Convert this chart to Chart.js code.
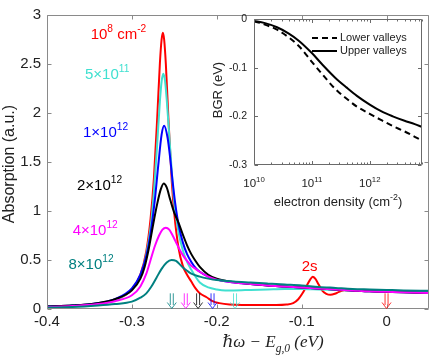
<!DOCTYPE html>
<html>
<head>
<meta charset="utf-8">
<script src="https://cdn.jsdelivr.net/npm/chart.js@4.4.0/dist/chart.umd.min.js"></script>
<style>
  html, body { margin: 0; padding: 0; background: #fff; }
  #wrap { position: relative; width: 436px; height: 357px; }
  #main { position: absolute; left: 0; top: 0; }
  #inset { position: absolute; left: 200px; top: 0; }
</style>
</head>
<body>
<div id="wrap">
  <canvas id="main" width="436" height="357"></canvas>
  <canvas id="inset" width="236" height="220"></canvas>
</div>
<script>
// ---- main plot: absorption spectra ----
const xTicks = [-0.4, -0.3, -0.2, -0.1, 0];
const yTicks = [0, 0.5, 1, 1.5, 2, 2.5, 3];

const redX = [-0.40, -0.37, -0.34, -0.32, -0.30, -0.29, -0.283, -0.278, -0.274, -0.270, -0.267, -0.265, -0.2635, -0.262, -0.260, -0.257, -0.253, -0.250, -0.245, -0.240, -0.235, -0.230, -0.225, -0.220, -0.212, -0.205, -0.197, -0.185, -0.17, -0.15, -0.13, -0.118, -0.110, -0.104, -0.099, -0.094, -0.090, -0.087, -0.084, -0.080, -0.076, -0.071, -0.066, -0.061, -0.056, -0.050, -0.04, -0.02, 0, 0.02, 0.05];
const redY = [0.025, 0.035, 0.055, 0.09, 0.2, 0.35, 0.59, 0.92, 1.34, 1.98, 2.51, 2.75, 2.82, 2.75, 2.5, 1.95, 1.3, 0.97, 0.62, 0.44, 0.35, 0.28, 0.21, 0.16, 0.12, 0.08, 0.06, 0.045, 0.04, 0.04, 0.04, 0.045, 0.06, 0.1, 0.16, 0.24, 0.30, 0.33, 0.31, 0.25, 0.19, 0.155, 0.145, 0.155, 0.175, 0.19, 0.195, 0.19, 0.18, 0.175, 0.165];

const cyanX = [-0.40, -0.37, -0.34, -0.32, -0.30, -0.29, -0.283, -0.278, -0.274, -0.270, -0.267, -0.265, -0.263, -0.261, -0.259, -0.257, -0.253, -0.250, -0.245, -0.240, -0.235, -0.230, -0.225, -0.220, -0.210, -0.200, -0.190, -0.180, -0.16, -0.14, -0.12, -0.10, -0.08, -0.06, -0.04, -0.02, 0, 0.02, 0.05];
const cyanY = [0.025, 0.035, 0.055, 0.09, 0.2, 0.34, 0.56, 0.83, 1.2, 1.71, 2.12, 2.32, 2.40, 2.33, 2.14, 1.9, 1.4, 1.08, 0.78, 0.6, 0.48, 0.40, 0.33, 0.27, 0.22, 0.2, 0.19, 0.19, 0.195, 0.2, 0.205, 0.205, 0.2, 0.195, 0.19, 0.185, 0.18, 0.175, 0.17];

const blueX = [-0.40, -0.37, -0.34, -0.32, -0.30, -0.29, -0.283, -0.278, -0.273, -0.269, -0.265, -0.262, -0.258, -0.255, -0.252, -0.249, -0.245, -0.240, -0.235, -0.230, -0.225, -0.220, -0.210, -0.200, -0.180, -0.16, -0.14, -0.12, -0.10, -0.08, -0.06, -0.04, -0.02, 0, 0.02, 0.05];
const blueY = [0.025, 0.035, 0.06, 0.1, 0.21, 0.35, 0.54, 0.77, 1.11, 1.46, 1.78, 1.87, 1.75, 1.55, 1.3, 1.08, 0.86, 0.68, 0.56, 0.48, 0.42, 0.38, 0.33, 0.3, 0.27, 0.255, 0.24, 0.23, 0.22, 0.21, 0.2, 0.19, 0.18, 0.175, 0.17, 0.165];

const blackX = [-0.40, -0.37, -0.34, -0.32, -0.30, -0.29, -0.285, -0.280, -0.275, -0.270, -0.266, -0.2625, -0.259, -0.255, -0.250, -0.245, -0.240, -0.235, -0.230, -0.225, -0.220, -0.210, -0.200, -0.180, -0.16, -0.14, -0.12, -0.10, -0.08, -0.06, -0.04, -0.02, 0, 0.02, 0.05];
const blackY = [0.025, 0.035, 0.06, 0.1, 0.19, 0.31, 0.43, 0.62, 0.86, 1.08, 1.22, 1.28, 1.24, 1.12, 0.98, 0.88, 0.76, 0.65, 0.56, 0.49, 0.43, 0.35, 0.31, 0.275, 0.255, 0.24, 0.23, 0.22, 0.21, 0.2, 0.19, 0.18, 0.175, 0.17, 0.165];

const magentaX = [-0.40, -0.37, -0.34, -0.32, -0.30, -0.29, -0.283, -0.278, -0.273, -0.268, -0.264, -0.260, -0.256, -0.252, -0.248, -0.244, -0.240, -0.235, -0.230, -0.225, -0.220, -0.210, -0.200, -0.180, -0.16, -0.14, -0.12, -0.10, -0.08, -0.06, -0.04, -0.02, 0, 0.02, 0.05];
const magentaY = [0.02, 0.03, 0.05, 0.08, 0.14, 0.23, 0.36, 0.5, 0.64, 0.75, 0.81, 0.83, 0.81, 0.75, 0.68, 0.61, 0.55, 0.49, 0.44, 0.41, 0.38, 0.33, 0.3, 0.27, 0.255, 0.24, 0.23, 0.22, 0.21, 0.2, 0.19, 0.18, 0.175, 0.17, 0.162];

const tealX = [-0.40, -0.37, -0.34, -0.32, -0.30, -0.29, -0.283, -0.277, -0.271, -0.265, -0.259, -0.2533, -0.248, -0.243, -0.2396, -0.235, -0.230, -0.220, -0.210, -0.200, -0.180, -0.16, -0.14, -0.12, -0.10, -0.08, -0.06, -0.04, -0.02, 0, 0.02, 0.05];
const tealY = [0.015, 0.02, 0.035, 0.05, 0.075, 0.115, 0.16, 0.23, 0.32, 0.41, 0.475, 0.5, 0.49, 0.45, 0.42, 0.39, 0.36, 0.33, 0.31, 0.295, 0.28, 0.27, 0.26, 0.25, 0.24, 0.225, 0.215, 0.205, 0.2, 0.195, 0.19, 0.185];

const colors = { red: '#ff0000', cyan: '#40e0d0', blue: '#0000ff', black: '#000000', magenta: '#ff00ff', teal: '#008080' };

// band-edge arrows
const arrowX = [-0.253, -0.2365, -0.222, -0.205, -0.1785, 0];
const arrowColors = [colors.teal, colors.magenta, colors.black, colors.blue, colors.cyan, colors.red];

// curve labels: text parts and anchor in data units
const curveLabels = [
  { parts: [{ t: '10' }, { t: '8', s: 'sup' }, { t: ' cm' }, { t: '-2', s: 'sup' }], color: colors.red, x: -0.3486, y: 2.76 },
  { parts: [{ t: '5×10' }, { t: '11', s: 'sup' }], color: colors.cyan, x: -0.3553, y: 2.35 },
  { parts: [{ t: '1×10' }, { t: '12', s: 'sup' }], color: colors.blue, x: -0.3576, y: 1.755 },
  { parts: [{ t: '2×10' }, { t: '12', s: 'sup' }], color: colors.black, x: -0.3647, y: 1.216 },
  { parts: [{ t: '4×10' }, { t: '12', s: 'sup' }], color: colors.magenta, x: -0.3698, y: 0.758 },
  { parts: [{ t: '8×10' }, { t: '12', s: 'sup' }], color: colors.teal, x: -0.3747, y: 0.409 },
  { parts: [{ t: '2s' }], color: colors.red, x: -0.1, y: 0.389 }
];

// ---- inset: band gap renormalization ----
const density = [1e10, 1.5e10, 2.5e10, 4e10, 6e10, 1e11, 1.5e11, 2.5e11, 4e11, 6e11, 1e12, 1.6e12, 2.5e12, 4e12, 6e12, 8e12];
const bgrLower = [-0.005, -0.011, -0.022, -0.038, -0.056, -0.088, -0.113, -0.143, -0.164, -0.180, -0.195, -0.208, -0.220, -0.231, -0.242, -0.250];
const bgrUpper = [-0.004, -0.008, -0.017, -0.030, -0.045, -0.070, -0.093, -0.120, -0.141, -0.158, -0.176, -0.190, -0.200, -0.209, -0.216, -0.222];
const insetYTicks = [0, -0.1, -0.2, -0.3];
const insetXTicks = [1e10, 1e11, 1e12];

const SANS = '"Liberation Sans", Arial, Helvetica, sans-serif';
const SERIF = '"Liberation Serif", "DejaVu Serif", serif';

function richWidth(ctx, parts, size, fam, style) {
  let w = 0;
  for (const p of parts) {
    const fs = p.s ? size * 0.68 : size;
    ctx.font = (style || '') + ' ' + fs + 'px ' + fam;
    w += ctx.measureText(p.t).width;
  }
  return w;
}

function drawRich(ctx, parts, x, y, size, color, align, fam, style) {
  ctx.save();
  ctx.fillStyle = color;
  ctx.textAlign = 'left';
  ctx.textBaseline = 'alphabetic';
  let cx = x;
  if (align === 'center') cx -= richWidth(ctx, parts, size, fam, style) / 2;
  for (const p of parts) {
    const fs = p.s ? size * 0.68 : size;
    ctx.font = (style || '') + ' ' + fs + 'px ' + fam;
    const dy = p.s === 'sup' ? -size * 0.45 : (p.s === 'sub' ? size * 0.28 : 0);
    ctx.fillText(p.t, cx, y + dy);
    cx += ctx.measureText(p.t).width;
  }
  ctx.restore();
}

function drawFrame(chart, color, xMajor, yMajor, len, xMinor, minorLen) {
  const { ctx, chartArea: a, scales } = chart;
  const L = Math.round(a.left) + 0.5, R = Math.round(a.right) - 0.5;
  const T = Math.round(a.top) + 0.5, B = Math.round(a.bottom) - 0.5;
  ctx.save();
  ctx.strokeStyle = color;
  ctx.lineWidth = 1;
  ctx.beginPath();
  ctx.rect(L, T, R - L, B - T);
  const xt = (v, l) => {
    const p = Math.round(scales.x.getPixelForValue(v)) + 0.5;
    ctx.moveTo(p, B); ctx.lineTo(p, B - l);
    ctx.moveTo(p, T); ctx.lineTo(p, T + l);
  };
  xMajor.forEach(v => xt(v, len));
  (xMinor || []).forEach(v => xt(v, minorLen));
  yMajor.forEach(v => {
    const p = Math.round(scales.y.getPixelForValue(v)) + 0.5;
    ctx.moveTo(L, p); ctx.lineTo(L + len, p);
    ctx.moveTo(R, p); ctx.lineTo(R - len, p);
  });
  ctx.stroke();
  ctx.restore();
}

const mainDecor = {
  id: 'mainDecor',
  afterDatasetsDraw(chart) {
    const { ctx, scales: { x, y } } = chart;
    drawFrame(chart, '#8a8a8a', xTicks, yTicks, 4);

    // arrows marking the band edges
    arrowX.forEach((v, i) => {
      const px = x.getPixelForValue(v);
      const top = y.getPixelForValue(0.16);
      const tip = y.getPixelForValue(0.005);
      ctx.save();
      ctx.strokeStyle = arrowColors[i];
      ctx.globalAlpha = 0.8;
      ctx.lineWidth = 1;
      ctx.beginPath();
      ctx.moveTo(px - 1.5, top); ctx.lineTo(px - 1.5, tip - 3.5);
      ctx.moveTo(px + 1.5, top); ctx.lineTo(px + 1.5, tip - 3.5);
      ctx.moveTo(px - 4.5, tip - 6); ctx.lineTo(px, tip); ctx.lineTo(px + 4.5, tip - 6);
      ctx.stroke();
      ctx.restore();
    });

    curveLabels.forEach(l => {
      drawRich(ctx, l.parts, x.getPixelForValue(l.x), y.getPixelForValue(l.y), 15, l.color, 'left', SANS);
    });

    // axis titles
    ctx.save();
    ctx.translate(14, (chart.chartArea.top + chart.chartArea.bottom) / 2 + 2);
    ctx.rotate(-Math.PI / 2);
    ctx.font = '16px ' + SANS;
    ctx.fillStyle = '#222';
    ctx.textAlign = 'center';
    ctx.textBaseline = 'alphabetic';
    ctx.fillText('Absorption (a.u.)', 0, 0);
    ctx.restore();

    drawRich(ctx, [{ t: 'ℏω − E' }, { t: 'g,0', s: 'sub' }, { t: ' (eV)' }], 273, 347, 17, '#222', 'center', SERIF, 'italic');
  }
};

const mainSeries = [
  { x: redX, y: redY, color: colors.red, order: 5 },
  { x: cyanX, y: cyanY, color: colors.cyan, order: 4 },
  { x: blueX, y: blueY, color: colors.blue, order: 3 },
  { x: blackX, y: blackY, color: colors.black, order: 2 },
  { x: magentaX, y: magentaY, color: colors.magenta, order: 1 },
  { x: tealX, y: tealY, color: colors.teal, order: 0 }
];

new Chart(document.getElementById('main'), {
  type: 'scatter',
  data: {
    datasets: mainSeries.map(s => ({
      data: s.x.map((v, i) => ({ x: v, y: s.y[i] })),
      borderColor: s.color,
      borderWidth: 2,
      showLine: true,
      pointRadius: 0,
      fill: false,
      cubicInterpolationMode: 'monotone',
      order: s.order
    }))
  },
  options: {
    responsive: false,
    animation: false,
    devicePixelRatio: 1,
    layout: { autoPadding: false, padding: { left: 0, top: 8, right: 7, bottom: 0 } },
    plugins: { legend: { display: false }, tooltip: { enabled: false } },
    scales: {
      x: {
        type: 'linear', min: -0.4, max: 0.05,
        afterBuildTicks: s => { s.ticks = xTicks.map(v => ({ value: v })); },
        afterFit: s => { s.height = 48; },
        ticks: { callback: v => String(v), font: { family: SANS, size: 15 }, color: '#222', padding: 4, maxRotation: 0 },
        grid: { display: false, drawTicks: false },
        border: { display: false }
      },
      y: {
        type: 'linear', min: 0, max: 3,
        afterBuildTicks: s => { s.ticks = yTicks.map(v => ({ value: v })); },
        afterFit: s => { s.width = 47; },
        ticks: { callback: v => String(v), font: { family: SANS, size: 15 }, color: '#222', padding: 6 },
        grid: { display: false, drawTicks: false },
        border: { display: false }
      }
    }
  },
  plugins: [mainDecor]
});

// ---- inset chart ----
const insetDecor = {
  id: 'insetDecor',
  beforeDatasetsDraw(chart) {
    const { ctx, chartArea: a } = chart;
    ctx.save();
    ctx.fillStyle = '#fff';
    ctx.fillRect(a.left, a.top, a.right - a.left, a.bottom - a.top);
    ctx.restore();
  },
  afterDatasetsDraw(chart) {
    const { ctx, chartArea: a, scales: { x } } = chart;
    const minor = [];
    for (let d = 1e10; d < 1e13; d *= 10) {
      for (let m = 2; m <= 9; m++) if (m * d <= 8e12) minor.push(m * d);
    }
    drawFrame(chart, '#6a6a6a', insetXTicks, insetYTicks, 3.5, minor, 2);

    insetXTicks.forEach(v => {
      const e = String(Math.round(Math.log10(v)));
      drawRich(ctx, [{ t: '10' }, { t: e, s: 'sup' }], x.getPixelForValue(v), a.bottom + 22, 11.5, '#222', 'center', SANS);
    });

    drawRich(ctx, [{ t: 'electron density (cm' }, { t: '-2', s: 'sup' }, { t: ')' }], (a.left + a.right) / 2, a.bottom + 41, 13, '#222', 'center', SANS);

    ctx.save();
    ctx.translate(a.left - 32, (a.top + a.bottom) / 2 - 2);
    ctx.rotate(-Math.PI / 2);
    ctx.font = '13px ' + SANS;
    ctx.fillStyle = '#222';
    ctx.textAlign = 'center';
    ctx.fillText('BGR (eV)', 0, 0);
    ctx.restore();

    // legend
    const items = [
      { label: 'Lower valleys', dash: [6, 4], y: a.top + 19 },
      { label: 'Upper valleys', dash: [], y: a.top + 32 }
    ];
    items.forEach(it => {
      ctx.save();
      ctx.strokeStyle = '#000';
      ctx.lineWidth = 2;
      ctx.setLineDash(it.dash);
      ctx.beginPath();
      ctx.moveTo(a.left + 58, it.y);
      ctx.lineTo(a.left + 83, it.y);
      ctx.stroke();
      ctx.restore();
      ctx.save();
      ctx.font = '11px ' + SANS;
      ctx.fillStyle = '#222';
      ctx.textBaseline = 'middle';
      ctx.fillText(it.label, a.left + 86, it.y);
      ctx.restore();
    });
  }
};

new Chart(document.getElementById('inset'), {
  type: 'scatter',
  data: {
    datasets: [
      {
        data: density.map((v, i) => ({ x: v, y: bgrLower[i] })),
        borderColor: '#000', borderWidth: 2, borderDash: [6, 4],
        showLine: true, pointRadius: 0, cubicInterpolationMode: 'monotone'
      },
      {
        data: density.map((v, i) => ({ x: v, y: bgrUpper[i] })),
        borderColor: '#000', borderWidth: 2,
        showLine: true, pointRadius: 0, cubicInterpolationMode: 'monotone'
      }
    ]
  },
  options: {
    responsive: false,
    animation: false,
    devicePixelRatio: 1,
    layout: { autoPadding: false, padding: { left: 0, top: 19, right: 14, bottom: 0 } },
    plugins: { legend: { display: false }, tooltip: { enabled: false } },
    scales: {
      x: {
        type: 'logarithmic', min: 1e10, max: 8e12,
        afterFit: s => { s.height = 55; },
        ticks: { display: false },
        grid: { display: false, drawTicks: false },
        border: { display: false }
      },
      y: {
        type: 'linear', min: -0.3, max: 0,
        afterBuildTicks: s => { s.ticks = insetYTicks.map(v => ({ value: v })); },
        afterFit: s => { s.width = 54; },
        ticks: { callback: v => String(v), font: { family: SANS, size: 10.5 }, color: '#222', padding: 7 },
        grid: { display: false, drawTicks: false },
        border: { display: false }
      }
    }
  },
  plugins: [insetDecor]
});
</script>
</body>
</html>
